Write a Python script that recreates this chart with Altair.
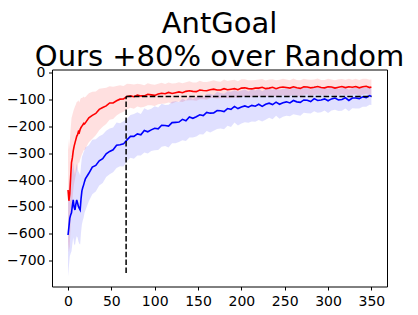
import altair as alt
import pandas as pd

# x positions (training iterations)
x_vals = list(range(20)) + list(range(20, 349, 4)) + [350]

red_mean = [-437, -477, -452, -390, -335, -318, -292, -275, -262, -250, -238, -232, -220, -224, -212, -205, -200, -196, -190, -192,
            -188, -169, -160, -153, -138, -131, -125, -114, -114, -106,
            -100, -99, -90, -88, -91, -85, -88, -88, -82, -84,
            -86, -81, -78, -80, -75, -79, -76, -73, -76, -71,
            -69, -71, -72, -66, -68, -69, -65, -63, -66, -66,
            -61, -65, -63, -61, -65, -59, -58, -61, -62, -59,
            -59, -56, -61, -59, -56, -61, -57, -55, -57, -59,
            -54, -58, -60, -54, -55, -58, -56, -53, -57, -58,
            -54, -55, -59, -56, -53, -57, -54, -56, -53, -58,
            -54, -52, -57, -55]
red_std = [190, 190, 195, 180, 165, 160, 146, 139, 135, 130, 127, 123, 116, 112, 111, 109, 104, 102, 100, 98,
           96, 91, 87, 81, 77, 71, 67, 62, 60, 55,
           52, 48, 47, 44, 45, 42, 43, 40, 41, 39,
           39, 38, 39, 36, 37, 37, 35, 36, 35, 34,
           35, 33, 34, 34, 32, 33, 31, 33, 32, 31,
           34, 32, 33, 33, 31, 33, 32, 31, 32, 30,
           32, 31, 30, 32, 30, 31, 29, 31, 30, 29,
           31, 29, 30, 30, 28, 30, 29, 30, 28, 29,
           30, 28, 29, 30, 28, 29, 30, 28, 29, 29,
           30, 28, 29, 29]

blue_mean = [-604, -575, -542, -530, -522, -495, -474, -500, -511, -490, -474, -485, -498, -505, -511, -470, -440, -428, -418, -406,
             -396, -375, -352, -346, -329, -321, -303, -294, -288, -271,
             -269, -266, -251, -238, -238, -229, -232, -216, -221, -214,
             -208, -210, -197, -198, -200, -187, -186, -185, -175, -180,
             -166, -171, -165, -158, -161, -149, -152, -151, -142, -143,
             -146, -135, -138, -127, -135, -129, -125, -130, -123, -126,
             -119, -127, -119, -115, -120, -111, -119, -113, -110, -114,
             -105, -110, -112, -103, -104, -109, -98, -105, -103, -99,
             -106, -99, -96, -103, -101, -95, -105, -96, -96, -98,
             -91, -94, -87, -90]
blue_std = [154, 145, 142, 143, 142, 142, 139, 137, 131, 132, 135, 128, 130, 131, 128, 125, 125, 122, 122, 116,
            117, 104, 101, 97, 91, 90, 86, 85, 83, 84,
            80, 84, 78, 79, 83, 80, 77, 82, 81, 78,
            82, 79, 80, 76, 79, 77, 78, 74, 77, 75,
            76, 71, 74, 72, 70, 69, 72, 66, 69, 66,
            66, 64, 65, 60, 63, 61, 61, 58, 60, 58,
            58, 56, 57, 54, 55, 51, 54, 52, 52, 49,
            51, 49, 50, 47, 48, 44, 47, 45, 46, 43,
            45, 43, 43, 41, 42, 40, 40, 38, 39, 37,
            37, 34, 34, 32]

# dashed reference lines
vline_x = [67]
vline_y = [-745, -90]
hline_x = [67, 350]
hline_y = [-90]

x_ticks = [0, 50, 100, 150, 200, 250, 300, 350]
y_ticks = [0, -100, -200, -300, -400, -500, -600, -700]
title_lines = ["AntGoal", "Ours +80% over Random"]


def frame(mean, std):
    return pd.DataFrame({
        "x": x_vals,
        "mean": mean,
        "lo": [m - s for m, s in zip(mean, std)],
        "hi": [m + s for m, s in zip(mean, std)],
    })


df_red = frame(red_mean, red_std)
df_blue = frame(blue_mean, blue_std)
df_v = pd.DataFrame({"x": vline_x, "y": [vline_y[0]], "y2": [vline_y[1]]})
df_h = pd.DataFrame({"x": [hline_x[0]], "x2": [hline_x[1]], "y": hline_y})

xs = alt.Scale(domain=[-18.5, 368], nice=False, zero=False)
ys = alt.Scale(domain=[-795, 10], nice=False, zero=False)
xax = alt.Axis(values=x_ticks, title=None, grid=False, domain=False, tickSize=3.5,
               tickColor="black", labelColor="black", labelFontSize=14, labelPadding=4,
               labelFont="DejaVu Sans", labelFlush=False)
yax = alt.Axis(values=y_ticks, title=None, grid=False, domain=False, tickSize=3.5,
               tickColor="black", labelColor="black", labelFontSize=14, labelPadding=3.5,
               labelFont="DejaVu Sans", labelFlush=False)


def band(df, color):
    return alt.Chart(df).mark_area(color=color, opacity=0.12).encode(
        x=alt.X("x:Q", scale=xs, axis=xax),
        y=alt.Y("lo:Q", scale=ys, axis=yax),
        y2="hi:Q",
    )


def line(df, color):
    return alt.Chart(df).mark_line(color=color, strokeWidth=1.6).encode(
        x=alt.X("x:Q", scale=xs, axis=xax),
        y=alt.Y("mean:Q", scale=ys, axis=yax),
    )


vrule = alt.Chart(df_v).mark_rule(color="black", strokeWidth=1.5, strokeDash=[5.5, 2.4]).encode(
    x=alt.X("x:Q", scale=xs, axis=xax), y=alt.Y("y:Q", scale=ys, axis=yax), y2="y2:Q")
hrule = alt.Chart(df_h).mark_rule(color="black", strokeWidth=1.5, strokeDash=[5.5, 2.4]).encode(
    x=alt.X("x:Q", scale=xs, axis=xax), x2="x2:Q", y=alt.Y("y:Q", scale=ys, axis=yax))

chart = alt.layer(
    band(df_red, "#ff0000"), band(df_blue, "#0000ff"),
    line(df_red, "#ff0000"), line(df_blue, "#0000ff"),
    vrule, hrule,
).properties(
    width=335, height=217,
    autosize="none",
    padding={"left": 44, "top": 61.5, "right": 20, "bottom": 25},
    title=alt.TitleParams(text=title_lines, fontSize=29, font="DejaVu Sans", fontWeight="normal",
                          color="black", anchor="middle", frame="group", offset=0, dy=7, lineHeight=33),
).configure_view(stroke="black", strokeWidth=1)

chart.save("out.html", embed_options={"renderer": "svg", "actions": False})
